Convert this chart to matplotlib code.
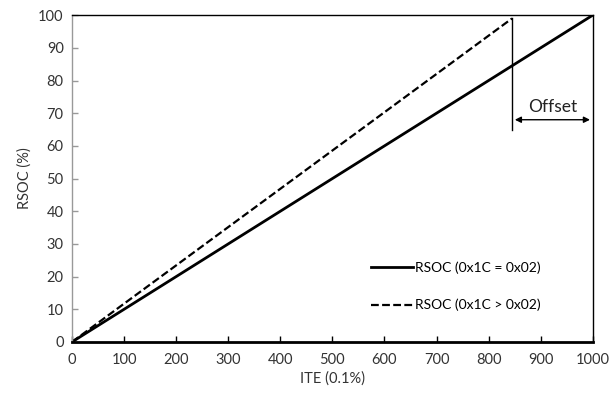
import matplotlib
matplotlib.use("Agg")
import matplotlib.pyplot as plt

plt.rcParams['font.family'] = ['Lato', 'DejaVu Sans']

ite_base = [0, 1000]
rsoc_base = [0, 100]
ite_offset = [0, 845]
rsoc_offset = [0, 99]
offset_start = 845
offset_end = 1000

fig = plt.figure(figsize=(6.13, 3.99), dpi=100)
ax = fig.add_axes([0.1175, 0.143, 0.8495, 0.819])

ax.plot(ite_base, rsoc_base, color='black', lw=2, label='RSOC (0x1C = 0x02)')
ax.plot(ite_offset, rsoc_offset, color='black', lw=1.6, ls=(0, (3.5, 1.5)), label='RSOC (0x1C > 0x02)')

# offset marker
ax.plot([offset_start, offset_start], [rsoc_offset[1], 65], color='black', lw=1)
ax.annotate('', xy=(offset_start, 68), xytext=(offset_end, 68),
            arrowprops=dict(arrowstyle='<|-|>', color='black', lw=1, mutation_scale=9))
ax.text((offset_start + offset_end) / 2, 69.5, 'Offset', ha='center', va='bottom', fontsize=12.5, color='#222222')

ax.set_xlim(0, 1000)
ax.set_ylim(0, 100)
ax.set_xticks(range(0, 1001, 100))
ax.set_yticks(range(0, 101, 10))
ax.tick_params(axis='x', direction='in', length=4, width=1, colors='black', labelcolor='#333333', labelsize=10.5, pad=8)
ax.tick_params(axis='y', direction='in', length=4, width=1, colors='#999999', labelcolor='#333333', labelsize=10.5, pad=6)
for s in ['top', 'right']:
    ax.spines[s].set_color('black')
    ax.spines[s].set_linewidth(1)
ax.spines['bottom'].set_linewidth(2)
ax.spines['left'].set_color('#999999')
ax.spines['left'].set_linewidth(1)

ax.set_xlabel('ITE (0.1%)', fontsize=10.5, color='#333333', labelpad=3)
ax.set_ylabel('RSOC (%)', fontsize=10.5, color='#333333', labelpad=5)

ax.legend(loc='lower left', bbox_to_anchor=(0.55, 0.055), frameon=False, fontsize=10,
          handlelength=3, handletextpad=0.2, labelspacing=1.8)

fig.savefig('out.png', dpi=100)
